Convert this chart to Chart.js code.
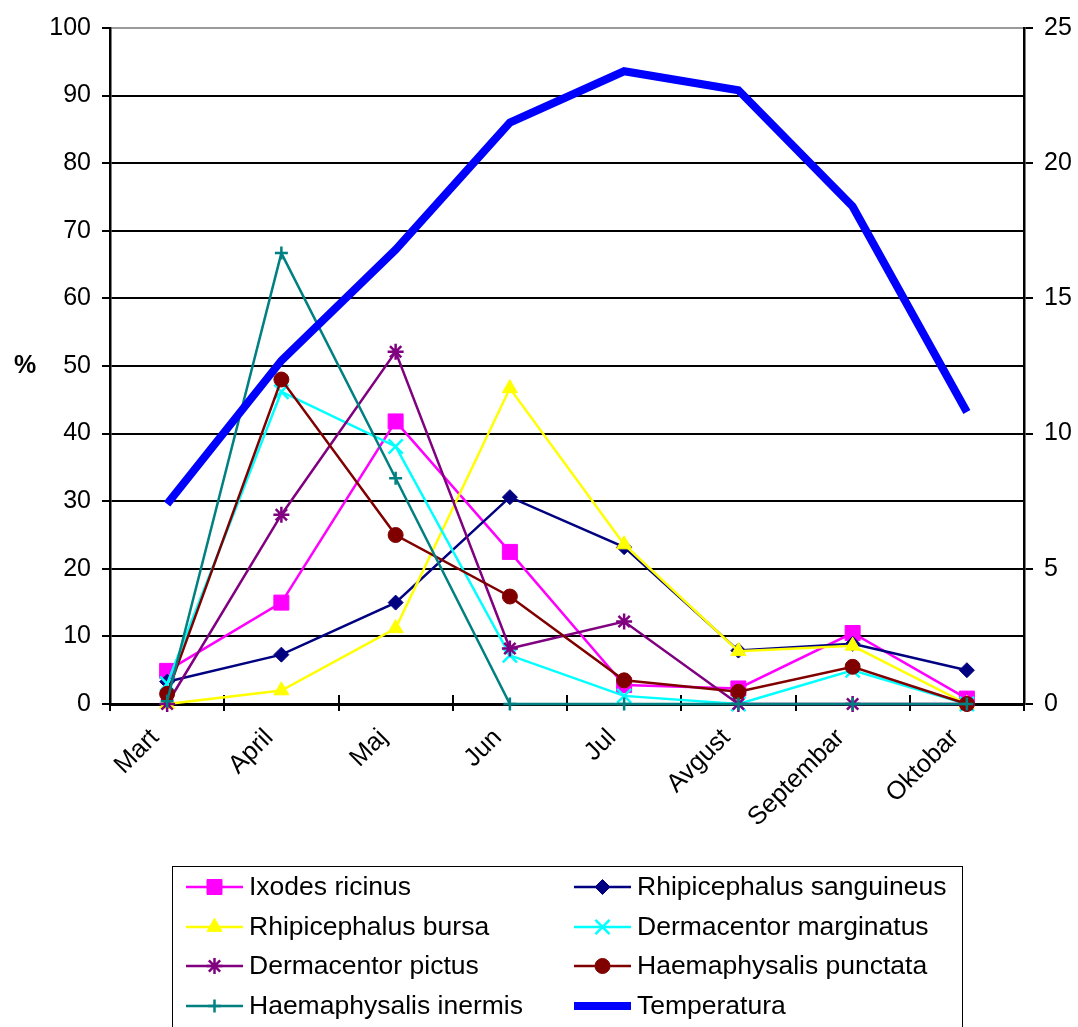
<!DOCTYPE html>
<html>
<head>
<meta charset="utf-8">
<script src="https://cdn.jsdelivr.net/npm/chart.js@4/dist/chart.umd.min.js"></script>
<style>
  html, body { margin: 0; padding: 0; background: #ffffff; }
  canvas { display: block; }
</style>
</head>
<body>
<canvas id="chart" width="1078" height="1027"></canvas>
<script>
// Monthly share of each tick species (%) and mean temperature (°C)
const months = ['Mart', 'April', 'Maj', 'Jun', 'Jul', 'Avgust', 'Septembar', 'Oktobar'];

const ixodesRicinus          = [4.9, 15.0, 41.8, 22.5, 2.8, 2.3, 10.5, 0.8];
const rhipicephalusSanguineus = [3.3, 7.3, 15.0, 30.6, 23.2, 7.9, 8.9, 5.0];
const rhipicephalusBursa     = [0.0, 2.0, 11.2, 46.7, 23.6, 7.8, 8.6, 0.0];
const dermacentorMarginatus  = [3.0, 46.2, 38.1, 7.2, 1.2, 0.0, 5.0, 0.0];
const dermacentorPictus      = [0.0, 28.0, 52.1, 8.2, 12.2, 0.0, 0.0, 0.0];
const haemaphysalisPunctata  = [1.5, 48.0, 25.0, 15.9, 3.5, 1.8, 5.5, 0.0];
const haemaphysalisInermis   = [0.4, 66.7, 33.4, 0.0, 0.0, 0.0, 0.0, 0.0];
const temperatura            = [7.4, 12.7, 16.8, 21.5, 23.4, 22.7, 18.4, 10.8];

const percentTicks = [0, 10, 20, 30, 40, 50, 60, 70, 80, 90, 100];
const temperatureTicks = [0, 5, 10, 15, 20, 25];

const FONT = '"Liberation Sans", Arial, Helvetica, sans-serif';
Chart.defaults.font.family = FONT;
Chart.defaults.font.size = 25;
Chart.defaults.color = '#000000';

function species(label, data, color, style, radius, strokeOnly) {
  return {
    label, data,
    yAxisID: 'y',
    borderColor: color,
    backgroundColor: color,
    borderWidth: 2.5,
    pointStyle: style,
    pointRadius: radius,
    pointBackgroundColor: color,
    pointBorderColor: color,
    pointBorderWidth: strokeOnly ? 2.5 : 1,
    tension: 0,
    fill: false,
    clip: false
  };
}

const datasets = [
  species('Ixodes ricinus', ixodesRicinus, '#FF00FF', 'rect', 10.6, false),
  species('Rhipicephalus sanguineus', rhipicephalusSanguineus, '#000080', 'rectRot', 7.5, false),
  species('Rhipicephalus bursa', rhipicephalusBursa, '#FFFF00', 'triangle', 8.7, false),
  species('Dermacentor marginatus', dermacentorMarginatus, '#00FFFF', 'crossRot', 10, true),
  species('Dermacentor pictus', dermacentorPictus, '#800080', 'star', 8, true),
  species('Haemaphysalis punctata', haemaphysalisPunctata, '#800000', 'circle', 7.5, false),
  species('Haemaphysalis inermis', haemaphysalisInermis, '#008080', 'cross', 6.5, true),
  {
    label: 'Temperatura',
    data: temperatura,
    yAxisID: 'y1',
    borderColor: '#0000FF',
    backgroundColor: '#0000FF',
    borderWidth: 8,
    pointRadius: 0,
    tension: 0,
    fill: false,
    clip: false
  }
];
// later series sit on top of earlier ones
datasets.forEach((d, i) => { d.order = datasets.length - i; });

// '%' caption beside the left axis, and the short tick marks that cross the category axis
const axisDecor = {
  id: 'axisDecor',
  beforeDatasetsDraw(chart) {
    const { ctx, chartArea, scales } = chart;
    const x = scales.x;
    ctx.save();
    ctx.strokeStyle = '#000000';
    ctx.lineWidth = 2;
    for (let i = 0; i <= months.length; i++) {
      const px = Math.round(x.getPixelForValue(i - 0.5));
      ctx.beginPath();
      ctx.moveTo(px, chartArea.bottom - 9);
      ctx.lineTo(px, chartArea.bottom);
      ctx.stroke();
    }
    ctx.restore();
  },
  afterDraw(chart) {
    const { ctx, chartArea } = chart;
    ctx.save();
    ctx.font = 'bold 25px ' + FONT;
    ctx.fillStyle = '#000000';
    ctx.textAlign = 'center';
    ctx.textBaseline = 'middle';
    ctx.fillText('%', 25, (chartArea.top + chartArea.bottom) / 2);
    ctx.restore();
  }
};

// two-column legend box under the category labels
const legendBox = { left: 172, top: 866, width: 790, height: 200 };
const legendColumns = [186, 574];
const legendRows = [887, 927, 966, 1006];
const sampleWidth = 57;

const boxedLegend = {
  id: 'boxedLegend',
  afterDraw(chart) {
    const ctx = chart.ctx;
    ctx.save();
    ctx.fillStyle = '#ffffff';
    ctx.fillRect(legendBox.left, legendBox.top, legendBox.width, legendBox.height);
    ctx.strokeStyle = '#000000';
    ctx.lineWidth = 1;
    ctx.strokeRect(legendBox.left + 0.5, legendBox.top + 0.5, legendBox.width, legendBox.height);

    chart.data.datasets.forEach((ds, i) => {
      const x0 = legendColumns[i % 2];
      const y = legendRows[Math.floor(i / 2)];
      ctx.strokeStyle = ds.borderColor;
      ctx.lineWidth = ds.borderWidth;
      ctx.lineCap = 'butt';
      ctx.beginPath();
      ctx.moveTo(x0, y);
      ctx.lineTo(x0 + sampleWidth, y);
      ctx.stroke();
      if (ds.pointRadius > 0) {
        ctx.fillStyle = ds.pointBackgroundColor;
        ctx.strokeStyle = ds.pointBorderColor;
        ctx.lineWidth = ds.pointBorderWidth;
        Chart.helpers.drawPoint(ctx, {
          pointStyle: ds.pointStyle,
          radius: ds.pointRadius,
          rotation: 0,
          borderWidth: ds.pointBorderWidth
        }, x0 + sampleWidth / 2, y);
      }
      ctx.fillStyle = '#000000';
      ctx.font = '26.5px ' + FONT;
      ctx.textAlign = 'left';
      ctx.textBaseline = 'middle';
      ctx.fillText(ds.label, x0 + sampleWidth + 6, y + 1);
    });
    ctx.restore();
  }
};

new Chart(document.getElementById('chart'), {
  type: 'line',
  data: { labels: months, datasets },
  plugins: [axisDecor, boxedLegend],
  options: {
    responsive: false,
    devicePixelRatio: 1,
    animation: false,
    events: [],
    layout: { padding: { top: 28, left: 0, right: 0, bottom: 0 } },
    plugins: { legend: { display: false }, tooltip: { enabled: false }, title: { display: false } },
    scales: {
      x: {
        type: 'category',
        offset: true,
        grid: { display: true, offset: true, drawOnChartArea: false, drawTicks: true, tickLength: 7, color: '#000000', lineWidth: 2 },
        border: { display: true, color: '#000000', width: 3 },
        ticks: { minRotation: 45, maxRotation: 45, autoSkip: false, padding: 12, labelOffset: -12, font: { size: 25.5 }, color: '#000000' },
        afterFit(scale) { scale.height = 323; }
      },
      y: {
        position: 'left',
        min: 0, max: 100,
        afterBuildTicks(scale) { scale.ticks = percentTicks.map(v => ({ value: v })); },
        grid: {
          color: ctx => (ctx.tick && ctx.tick.value === 100 ? '#9a9a9a' : '#000000'),
          tickColor: '#000000',
          lineWidth: 2,
          tickLength: 8
        },
        border: { display: true, color: '#000000', width: 2.5 },
        ticks: { padding: 11, font: { size: 25 }, color: '#000000' },
        afterFit(scale) { scale.width = 110; }
      },
      y1: {
        position: 'right',
        min: 0, max: 25,
        afterBuildTicks(scale) { scale.ticks = temperatureTicks.map(v => ({ value: v })); },
        grid: { drawOnChartArea: false, color: '#000000', lineWidth: 2, tickLength: 9 },
        border: { display: true, color: '#000000', width: 2.5 },
        ticks: { padding: 11, font: { size: 25 }, color: '#000000' },
        afterFit(scale) { scale.width = 54; }
      }
    }
  }
});
</script>
</body>
</html>
